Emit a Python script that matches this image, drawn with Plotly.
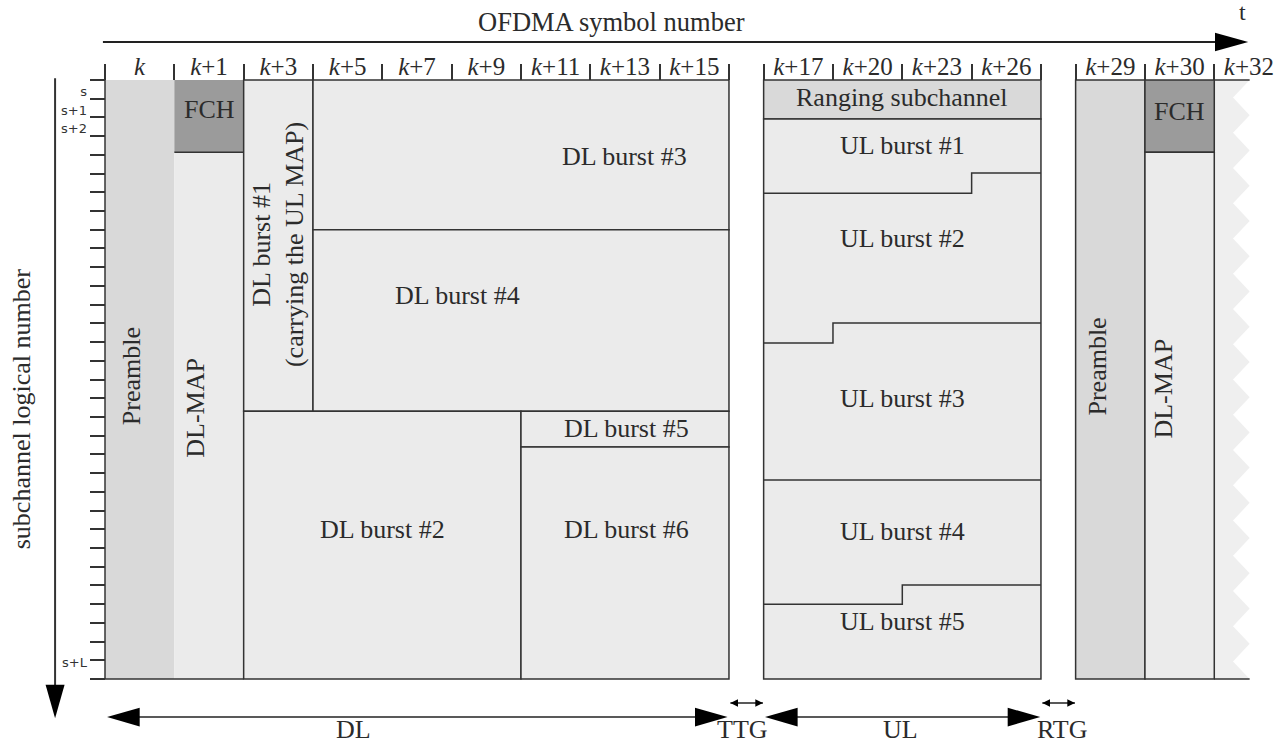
import plotly.graph_objects as go

# ---------------- data ----------------
# OFDMA symbol columns (slot units along time)
dl_edges = [0, 1, 2, 3, 4, 5, 6, 7, 8, 9]
ul_edges = [9.5, 10.5, 11.5, 12.5, 13.5]
nf_edges = [14, 15, 16]
dl_labels = ["k", "k+1", "k+3", "k+5", "k+7", "k+9", "k+11", "k+13", "k+15"]
ul_labels = ["k+17", "k+20", "k+23", "k+26"]
nf_labels = ["k+29", "k+30", "k+32"]

# subchannel rows
n_subchannels = 32
sub_tick_vals = list(range(0, n_subchannels + 1))
sub_label_text = ["s", "s+1", "s+2", "s+L"]
sub_label_vals = [0.62, 1.6, 2.58, 31.1]

# downlink bursts (symbol start/end, subchannel start/end)
dl_names = ["Preamble", "FCH", "DL-MAP", "DL burst #1", "DL burst #3",
            "DL burst #4", "DL burst #2", "DL burst #5", "DL burst #6"]
dl_sym0 = [0, 1, 1, 2, 3, 3, 2, 6, 6]
dl_sym1 = [1, 2, 2, 3, 9, 9, 6, 9, 9]
dl_sub0 = [0, 0, 3.86, 0, 0, 8.0, 17.7, 17.7, 19.6]
dl_sub1 = [32, 3.86, 32, 17.7, 8.0, 17.7, 32, 19.6, 32]

# next frame start
nf_names = ["Preamble", "FCH", "DL-MAP"]
nf_sym0 = [14, 15, 15]
nf_sym1 = [15, 16, 16]
nf_sub0 = [0, 0, 3.86]
nf_sub1 = [32, 3.86, 32]

# uplink: ranging subchannel + staircase burst boundaries per UL column
ranging_rows = 2.08
ul_boundary_names = ["UL1/UL2", "UL2/UL3", "UL3/UL4", "UL4/UL5"]
ul_boundaries = [[6.05, 6.05, 6.05, 4.97],
                 [14.05, 12.98, 12.98, 12.98],
                 [21.37, 21.37, 21.37, 21.37],
                 [28.0, 28.0, 26.98, 26.98]]
ul_names = ["Ranging subchannel", "UL burst #1", "UL burst #2", "UL burst #3",
            "UL burst #4", "UL burst #5"]

# ---------------- layout constants ----------------
W, H = 1281, 745
COL_PX, ROW_PX = 69.33, 18.72
OX, OY = 105, 80
FONT = "Liberation Serif, Times New Roman, serif"
TXT = "#2b2b2b"
LINE = "#333333"
LW = 1.5
fills = {"Preamble": "#d9d9d9", "FCH": "#9b9b9b", "Ranging subchannel": "#d9d9d9"}
BURST = "#ebebeb"
LBL = 26

fig = go.Figure()
shapes = []
annotations = []


def rect(x0, x1, y0, y1, fill, line=True):
    shapes.append(dict(type="rect", xref="x", yref="y", x0=x0, x1=x1, y0=y0, y1=y1,
                       fillcolor=fill, layer="below",
                       line=dict(color=LINE, width=LW if line else 0)))


def seg(x0, x1, y0, y1, color=LINE, w=LW, layer="below"):
    shapes.append(dict(type="line", xref="x", yref="y", x0=x0, x1=x1, y0=y0, y1=y1,
                       line=dict(color=color, width=w), layer=layer))


def label(text, x, y, angle=0, size=LBL):
    annotations.append(dict(x=x, y=y, xref="x", yref="y", text=text, showarrow=False,
                            textangle=angle, font=dict(family=FONT, size=size, color=TXT)))


# jagged continuation of next frame (drawn first, under the frame borders)
n_teeth = 17
P = n_subchannels / n_teeth
xin, xout = 16.27, 16.51
path = f"M {nf_edges[-1]},0 L {xout},0"
for i in range(n_teeth):
    path += f" L {xin},{(i + 0.5) * P} L {xout},{(i + 1) * P}"
path += f" L {nf_edges[-1]},{n_subchannels} Z"
shapes.append(dict(type="path", path=path, xref="x", yref="y", fillcolor="#efefef",
                   line=dict(width=0), layer="below"))
for yy in (0, n_subchannels):
    seg(nf_edges[-1], xout, yy, yy)

# DL blocks: preamble/FCH/DL-MAP without outline, bursts outlined
for n, a, b, c, d in zip(dl_names, dl_sym0, dl_sym1, dl_sub0, dl_sub1):
    rect(a, b, c, d, fills.get(n, BURST), line=n.startswith("DL burst"))
seg(dl_sym0[0], dl_sym0[0], 0, n_subchannels)                 # left frame edge
seg(dl_sym0[0], dl_sym1[2], n_subchannels, n_subchannels)      # bottom edge
seg(dl_sym0[1], dl_sym1[1], dl_sub1[1], dl_sub1[1])            # FCH bottom

# next frame blocks
for n, a, b, c, d in zip(nf_names, nf_sym0, nf_sym1, nf_sub0, nf_sub1):
    rect(a, b, c, d, fills.get(n, BURST))
# UL blocks
rect(ul_edges[0], ul_edges[-1], 0, ranging_rows, fills["Ranging subchannel"])
rect(ul_edges[0], ul_edges[-1], ranging_rows, n_subchannels, BURST)

# UL staircase boundaries
for name, vals in zip(ul_boundary_names, ul_boundaries):
    fig.add_trace(go.Scatter(x=ul_edges, y=vals + [vals[-1]], mode="lines", line_shape="hv",
                             line=dict(color=LINE, width=LW), hoverinfo="skip",
                             showlegend=False, name=name))

# block labels
label("Preamble", 0.38, 15.8, -90)
label("FCH", 1.5, 1.6)
label("DL-MAP", 1.3, 17.5, -90)
label("DL burst #1<br>(carrying the UL MAP)", 2.5, 8.8, -90)
label("DL burst #3", 7.5, 4.1)
label("DL burst #4", 5.09, 11.5)
label("DL burst #2", 4.0, 24.0)
label("DL burst #5", 7.52, 18.62)
label("DL burst #6", 7.52, 24.0)
ul_label_rows = [0.95, 3.5, 8.45, 17.0, 24.1, 28.95]
for n, r in zip(ul_names, ul_label_rows):
    label(n, 11.5, r)
label("Preamble", 14.31, 15.3, -90)
label("FCH", 15.5, 1.7)
label("DL-MAP", 15.27, 16.5, -90)

# ---------------- arrows ----------------
HEAD_L, HEAD_W = 0.47, 0.5     # big horizontal heads (x units, y units)
SMALL_L, SMALL_W = 0.11, 0.2


def hline(x0, x1, y, w=1.6):
    shapes.append(dict(type="line", xref="x", yref="y", x0=x0, x1=x1, y0=y, y1=y,
                       line=dict(color="#222", width=w)))


def head(xt, y, direction, L, hw):
    shapes.append(dict(type="path", xref="x", yref="y",
                       path=f"M {xt},{y} L {xt - direction * L},{y - hw} L {xt - direction * L},{y + hw} Z",
                       fillcolor="#000", line=dict(width=0)))


# top time arrow
top_row = -2.03
hline(-0.03, 16.2, top_row, 2.2)
head(16.49, top_row, 1, 0.48, 0.5)
label("OFDMA symbol number", 7.3, -3.1, 0, 26.5)
label("t", 16.4, -3.65, 0, 24)

# left subchannel arrow
lx = -0.72
shapes.append(dict(type="line", xref="x", yref="y", x0=lx, x1=lx, y0=-0.1, y1=33.0,
                   line=dict(color="#333", width=2)))
shapes.append(dict(type="path", xref="x", yref="y",
                   path=f"M {lx},34.1 L {lx - 0.137},32.3 L {lx + 0.137},32.3 Z",
                   fillcolor="#000", line=dict(width=0)))
annotations.append(dict(x=-1.2, y=17.6, xref="x", yref="y", text="subchannel logical number",
                        showarrow=False, textangle=-90, font=dict(family=FONT, size=26, color=TXT)))

# bottom region arrows
bot_row, gap_row = 34.03, 33.28
dl_span = (0.03, 8.98)
ul_span = (9.52, 13.49)
ttg_span = (9.02, 9.49)
rtg_span = (13.52, 13.99)
for a, b in (dl_span, ul_span):
    hline(a + HEAD_L * 0.9, b - HEAD_L * 0.9, bot_row)
    head(a, bot_row, -1, HEAD_L, HEAD_W)
    head(b, bot_row, 1, HEAD_L, HEAD_W)
for a, b in (ttg_span, rtg_span):
    hline(a, b, gap_row, 1.5)
    head(a, gap_row, -1, SMALL_L, SMALL_W)
    head(b, gap_row, 1, SMALL_L, SMALL_W)
label("DL", 3.58, 34.72)
label("TTG", 9.2, 34.72)
label("UL", 11.47, 34.72)
label("RTG", 13.8, 34.72)

# ---------------- axes ----------------
sym_centers = [e + 0.5 for e in dl_edges[:-1]] + [e + 0.5 for e in ul_edges[:-1]] + \
              [e + 0.5 for e in nf_edges]
sym_text = ["<i>k</i>" + l[1:] for l in dl_labels + ul_labels + nf_labels]
sym_edges = dl_edges + ul_edges + nf_edges

fig.update_layout(
    width=W, height=H, margin=dict(l=0, r=0, t=0, b=0),
    paper_bgcolor="white", plot_bgcolor="white",
    shapes=shapes, annotations=annotations, showlegend=False,
    xaxis=dict(range=[-OX / COL_PX, (W - OX) / COL_PX], showgrid=False, zeroline=False,
               showline=False, anchor="free", position=1 - OY / H, side="top",
               tickmode="array", tickvals=sym_centers, ticktext=sym_text, ticks="",
               ticklabelstandoff=0,
               tickfont=dict(family=FONT, size=25, color=TXT), fixedrange=True,
               minor=dict(tickmode="array", tickvals=sym_edges, ticks="outside", ticklen=16,
                          tickwidth=LW, tickcolor=LINE, showgrid=False)),
    yaxis=dict(range=[(H - OY) / ROW_PX, -OY / ROW_PX], showgrid=False, zeroline=False,
               showline=False, anchor="free", position=OX / W, domain=[0, 1],
               tickmode="array", tickvals=sub_label_vals, ticktext=sub_label_text, ticks="",
               ticklabelstandoff=18,
               tickfont=dict(family="DejaVu Sans, sans-serif", size=13, color="#333"),
               fixedrange=True,
               minor=dict(tickmode="array", tickvals=sub_tick_vals, ticks="outside", ticklen=15,
                          tickwidth=LW, tickcolor=LINE, showgrid=False)),
)

fig.write_html("out.html", config={"displayModeBar": False},
               post_script="document.body.style.margin='0';document.body.style.overflow='hidden';")
